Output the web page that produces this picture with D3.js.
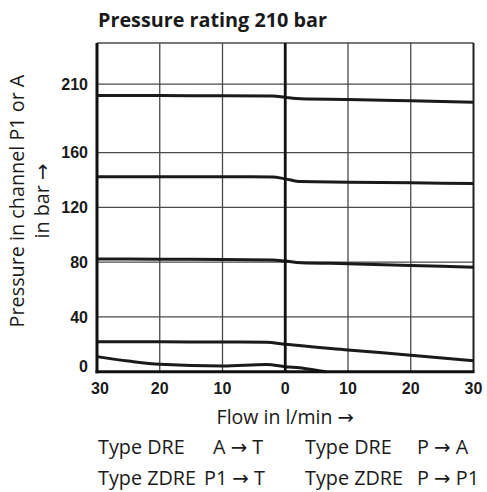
<!DOCTYPE html>
<html>
<head>
<meta charset="utf-8">
<script src="https://cdn.jsdelivr.net/npm/d3@7/dist/d3.min.js"></script>
<style>
  html, body { margin: 0; padding: 0; background: #fff; }
  svg { display: block; }
</style>
</head>
<body>
<script>
// ---- data ----
const flowTicks = [-30, -20, -10, 0, 10, 20, 30];
const flowTickLabels = ["30", "20", "10", "0", "10", "20", "30"];
const pressureTicks = [0, 40, 80, 120, 160, 210];
const pressureTickLabels = ["0", "40", "80", "120", "160", "210"];

// negative flow = A → T / P1 → T (left half), positive = P → A / P → P1 (right half)
const curve1Flow = [-30, -20, -10, -2, 0, 2.5, 10, 20, 30];
const curve1Pressure = [201.7, 201.6, 201.5, 201.3, 200.3, 199.3, 198.8, 197.8, 196.8];
const curve2Flow = [-30, -20, -10, -2, 0, 2.5, 10, 20, 30];
const curve2Pressure = [142.3, 142.3, 142.3, 142.2, 140.8, 138.8, 138.4, 137.9, 137.4];
const curve3Flow = [-30, -20, -10, -2, 0, 2.5, 10, 20, 30];
const curve3Pressure = [82.3, 82.1, 81.9, 81.6, 80.8, 79.6, 78.9, 77.6, 76.3];
const curve4Flow = [-30, -20, -10, -3, 0, 10, 20, 30];
const curve4Pressure = [21.9, 21.8, 21.7, 21.5, 20.0, 15.9, 12.0, 8.0];
const curve5Flow = [-30, -25, -20, -10, -3, 0, 3, 6.5];
const curve5Pressure = [11.0, 7.8, 5.4, 4.2, 5.2, 3.7, 2.4, 0.0];

const titleText = "Pressure rating 210 bar";
const yTitleLines = ["Pressure in channel P1 or A", "in bar →"];
const xTitleText = "Flow in l/min →";
const legendRow1 = ["Type DRE", "A → T", "Type DRE", "P → A"];
const legendRow2 = ["Type ZDRE", "P1 → T", "Type ZDRE", "P → P1"];

// ---- layout ----
const W = 487, H = 492;
const m = { left: 97, right: 13.5, top: 43, bottom: 120.3 };
const svg = d3.select("body").append("svg").attr("width", W).attr("height", H);

const x = d3.scaleLinear().domain([-30, 30]).range([m.left, W - m.right]);
const y = d3.scaleLinear().domain([0, 240]).range([H - m.bottom, m.top]);

const gridColor = "#4a4a4a";
const regFont = "'Open Sans', 'DejaVu Sans', sans-serif";

// choose a condensed bold face for tick numbers if available
let tickFont = "'Liberation Sans Narrow', 'Arial Narrow', 'Liberation Sans', sans-serif";
let tickSize = 18;
{
  const probe = svg.append("text").attr("font-family", tickFont).attr("font-weight", "bold")
    .attr("font-size", tickSize).text("210");
  const w = probe.node().getComputedTextLength();
  probe.remove();
  if (w > 29) { tickFont = "'Liberation Sans', Arial, sans-serif"; tickSize = 16; }
}

// frame top
svg.append("line")
  .attr("x1", x(-30)).attr("x2", x(30)).attr("y1", y(240)).attr("y2", y(240))
  .attr("stroke", gridColor).attr("stroke-width", 1.3);

// horizontal gridlines
svg.append("g").selectAll("line").data(pressureTicks.filter(d => d !== 0)).join("line")
  .attr("x1", x(-30)).attr("x2", x(30))
  .attr("y1", d => y(d)).attr("y2", d => y(d))
  .attr("stroke", gridColor).attr("stroke-width", 1.3);

// vertical gridlines
svg.append("g").selectAll("line").data(flowTicks.filter(d => d !== -30 && d !== 0 && d !== 30)).join("line")
  .attr("x1", d => x(d)).attr("x2", d => x(d))
  .attr("y1", y(240)).attr("y2", y(0))
  .attr("stroke", gridColor).attr("stroke-width", 1.3);

// right border
svg.append("line")
  .attr("x1", x(30)).attr("x2", x(30)).attr("y1", y(240)).attr("y2", y(0))
  .attr("stroke", "#222").attr("stroke-width", 2);

// curves
const line = d3.line().x(d => x(d[0])).y(d => y(d[1])).curve(d3.curveMonotoneX);
const curves = [
  [curve1Flow, curve1Pressure],
  [curve2Flow, curve2Pressure],
  [curve3Flow, curve3Pressure],
  [curve4Flow, curve4Pressure],
  [curve5Flow, curve5Pressure]
];
svg.append("g").selectAll("path").data(curves).join("path")
  .attr("d", c => line(c[0].map((f, i) => [f, c[1][i]])))
  .attr("fill", "none").attr("stroke", "#1a1a1a").attr("stroke-width", 3)
  .attr("stroke-linejoin", "round");

// thick axes: left, centre (0), bottom
svg.append("line")
  .attr("x1", x(-30)).attr("x2", x(-30)).attr("y1", y(240)).attr("y2", y(0) + 1.5)
  .attr("stroke", "#111").attr("stroke-width", 3);
svg.append("line")
  .attr("x1", x(0)).attr("x2", x(0)).attr("y1", y(240)).attr("y2", y(0))
  .attr("stroke", "#111").attr("stroke-width", 2.8);
svg.append("line")
  .attr("x1", x(-30) - 1.5).attr("x2", x(30) + 1).attr("y1", y(0)).attr("y2", y(0))
  .attr("stroke", "#111").attr("stroke-width", 3);

// y tick labels
svg.append("g").selectAll("text").data(pressureTicks).join("text")
  .attr("x", m.left - 9)
  .attr("y", d => y(d) + (d === 0 ? -5 : 0))
  .attr("dy", "0.36em")
  .attr("text-anchor", "end")
  .attr("font-family", tickFont).attr("font-weight", "bold").attr("font-size", tickSize)
  .attr("fill", "#1a1a1a")
  .text((d, i) => pressureTickLabels[i]);

// x tick labels
svg.append("g").selectAll("text").data(flowTicks).join("text")
  .attr("x", d => x(d) + (d === -30 ? 3 : 0))
  .attr("y", 394)
  .attr("text-anchor", "middle")
  .attr("font-family", tickFont).attr("font-weight", "bold").attr("font-size", tickSize)
  .attr("fill", "#1a1a1a")
  .text((d, i) => flowTickLabels[i]);

// title
svg.append("text")
  .attr("x", 98).attr("y", 27)
  .attr("font-family", regFont).attr("font-weight", "bold").attr("font-size", 19.8)
  .attr("fill", "#1a1a1a")
  .text(titleText);

// x axis title
svg.append("text")
  .attr("x", x(0)).attr("y", 424)
  .attr("text-anchor", "middle")
  .attr("font-family", regFont).attr("font-size", 19.5)
  .attr("fill", "#1a1a1a")
  .text(xTitleText);

// y axis title (two rotated lines)
const yt = svg.append("g").attr("transform", "translate(0,201) rotate(-90)");
yt.selectAll("text").data(yTitleLines).join("text")
  .attr("x", 0)
  .attr("y", (d, i) => i === 0 ? 24 : 49)
  .attr("text-anchor", "middle")
  .attr("font-family", regFont).attr("font-size", 19.8)
  .attr("fill", "#1a1a1a")
  .text(d => d);

// legend rows
const legendCols1 = [98, 213, 305, 417];
const legendCols2 = [98, 204, 305, 417];
[[legendRow1, legendCols1, 453.5], [legendRow2, legendCols2, 485]].forEach(([row, cols, by]) => {
  svg.append("g").selectAll("text").data(row).join("text")
    .attr("x", (d, i) => cols[i]).attr("y", by)
    .attr("font-family", regFont).attr("font-size", 19.8)
    .attr("fill", "#1a1a1a")
    .text(d => d);
});
</script>
</body>
</html>
